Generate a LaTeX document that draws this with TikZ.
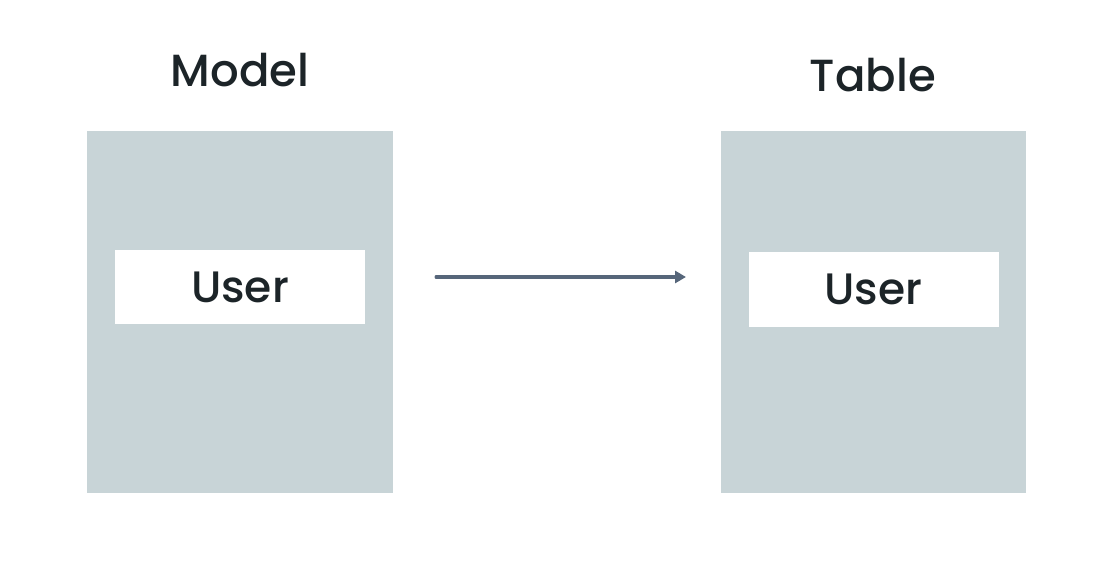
\documentclass[tikz,border=0pt]{standalone}
\usepackage{fontspec}
\setmainfont{Poppins}[UprightFont=* Medium]
\usetikzlibrary{arrows.meta}
\definecolor{panel}{HTML}{C8D4D7}
\definecolor{ink}{HTML}{1C2428}
\definecolor{arrowgray}{HTML}{56667A}
\tikzset{
  panel/.style={fill=panel, draw=none},
  entry/.style={fill=white, draw=none, minimum width=250pt, minimum height=74pt,
    inner sep=0pt, font=\fontsize{44}{50}\selectfont, text=ink},
  heading/.style={font=\fontsize{45}{52}\selectfont, text=ink, inner sep=0pt},
  flow/.style={draw=arrowgray, line width=3pt, line cap=round,
    -{Triangle[length=11pt,width=12pt]}}
}
\begin{document}
\begin{tikzpicture}[x=1pt,y=-1pt]
  \useasboundingbox[fill=white] (0,0) rectangle (1105,569);
  % left column: the model
  \fill[panel] (87,131) rectangle (393,493);
  \node[entry] (muser) at (240,287) {User};
  \node[heading] (model) at (240,70) {Model};
  % right column: the table
  \fill[panel] (721,131) rectangle (1026,493);
  \node[entry] (tuser) at (873.5,289.5) {User};
  \node[heading] (table) at (873,75) {Table};
  % mapping arrow
  \coordinate (a0) at (436,277);
  \coordinate (a1) at (686,277);
  \draw[flow] (a0) -- (a1);
\end{tikzpicture}
\end{document}
